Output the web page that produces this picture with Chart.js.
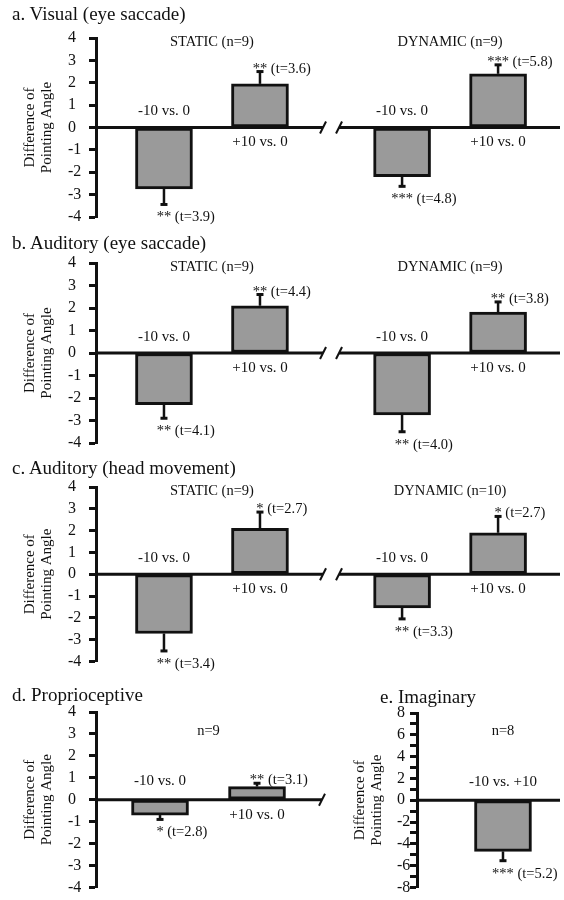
<!DOCTYPE html>
<html><head><meta charset="utf-8">
<script src="https://cdn.jsdelivr.net/npm/chart.js@4"></script>
<style>
body{margin:0;background:#fff;width:564px;height:900px;position:relative;overflow:hidden;font-family:"Liberation Serif",serif;color:#111}
canvas{position:absolute}
.t{position:absolute;font-size:19px;line-height:22px;white-space:nowrap}
</style></head><body>
<canvas id="ca" width="564" height="232" style="left:0;top:0"></canvas>
<canvas id="cb" width="564" height="224" style="left:0;top:232px"></canvas>
<canvas id="cc" width="564" height="218" style="left:0;top:456px"></canvas>
<canvas id="cd" width="330" height="226" style="left:0;top:674px"></canvas>
<canvas id="ce" width="234" height="226" style="left:330px;top:674px"></canvas>
<div class="t" style="left:12px;top:3px">a. Visual (eye saccade)</div>
<div class="t" style="left:12px;top:232px">b. Auditory (eye saccade)</div>
<div class="t" style="left:12px;top:457px">c. Auditory (head movement)</div>
<div class="t" style="left:12px;top:684px">d. Proprioceptive</div>
<div class="t" style="left:380px;top:686px">e. Imaginary</div>
<script>
// values
const cats = ["-10 vs. 0", "+10 vs. 0"];
const catsImag = ["-10 vs. +10"];

const visStatic = [-2.75, 1.95];
const visStaticErr = [0.69, 0.55];
const visStaticSig = ["** (t=3.9)", "** (t=3.6)"];
const visDynamic = [-2.2, 2.4];
const visDynamicErr = [0.43, 0.4];
const visDynamicSig = ["*** (t=4.8)", "*** (t=5.8)"];

const audStatic = [-2.3, 2.1];
const audStaticErr = [0.6, 0.5];
const audStaticSig = ["** (t=4.1)", "** (t=4.4)"];
const audDynamic = [-2.75, 1.82];
const audDynamicErr = [0.75, 0.45];
const audDynamicSig = ["** (t=4.0)", "** (t=3.8)"];

const headStatic = [-2.72, 2.1];
const headStaticErr = [0.8, 0.75];
const headStaticSig = ["** (t=3.4)", "* (t=2.7)"];
const headDynamic = [-1.55, 1.9];
const headDynamicErr = [0.5, 0.75];
const headDynamicSig = ["** (t=3.3)", "* (t=2.7)"];

const propValues = [-0.7, 0.6];
const propErr = [0.2, 0.15];
const propSig = ["* (t=2.8)", "** (t=3.1)"];

const imagValues = [-4.7];
const imagErr = [0.85];
const imagSig = ["*** (t=5.2)"];

const F = '"Liberation Serif"';

const deco = {
  id: 'deco',
  afterDatasetsDraw(chart, args, o) {
    const {ctx, chartArea: a, scales: {x, y}} = chart;
    const y0 = y.getPixelForValue(0);
    ctx.save();
    ctx.strokeStyle = ctx.fillStyle = '#111';
    ctx.lineWidth = 3;
    let bx = null;
    const segs = [];
    if (o.breakAt != null) {
      bx = x.getPixelForValue(o.breakAt);
      segs.push([a.left, bx - 8], [bx + 8, a.right]);
    } else segs.push([a.left, a.right]);
    segs.forEach(([l, r]) => { ctx.beginPath(); ctx.moveTo(l, y0); ctx.lineTo(r, y0); ctx.stroke(); });
    const slash = px => { ctx.lineWidth = 2; ctx.beginPath(); ctx.moveTo(px - 3, y0 + 6); ctx.lineTo(px + 3, y0 - 6); ctx.stroke(); };
    if (bx != null) { slash(bx - 8); slash(bx + 8); }
    if (o.endBreak) slash(a.right);

    chart.data.datasets.forEach((ds, di) => {
      const els = chart.getDatasetMeta(di).data;
      ctx.font = '14.5px ' + F; ctx.textAlign = 'center'; ctx.textBaseline = 'middle';
      const gx = els.reduce((s, e) => s + e.x, 0) / els.length;
      ctx.fillText(ds.label, gx, a.top + o.labelDy);
      els.forEach((el, i) => {
        const v = ds.data[i].y, s = v < 0 ? -1 : 1;
        const end = y.getPixelForValue(v + s * ds.err[i]);
        ctx.lineWidth = 2.5;
        ctx.beginPath(); ctx.moveTo(el.x, el.y); ctx.lineTo(el.x, end); ctx.stroke();
        ctx.lineWidth = 3;
        ctx.beginPath(); ctx.moveTo(el.x - 3.5, end); ctx.lineTo(el.x + 3.5, end); ctx.stroke();
        ctx.font = '15px ' + F; ctx.textAlign = 'center'; ctx.textBaseline = 'middle';
        ctx.fillText(ds.names[i], el.x, y0 + (v < 0 ? -o.catUp : 15));
        ctx.font = '14.5px ' + F; ctx.textAlign = 'left'; ctx.textBaseline = 'alphabetic';
        const stars = ds.sig[i].split(' ')[0];
        const sx = el.x - ctx.measureText(stars).width / 2;
        ctx.fillText(ds.sig[i], sx, v < 0 ? end + 17 : end + 1);
      });
    });
    ctx.restore();
  }
};

function group(label, values, err, sig, names, offset) {
  return {
    label, err, sig, names,
    data: values.map((v, i) => ({x: offset + i, y: v})),
    backgroundColor: '#9a9a9a', borderColor: '#111', borderWidth: 3,
    borderSkipped: false, barThickness: 57, grouped: false
  };
}

function panel(id, datasets, o) {
  new Chart(document.getElementById(id), {
    type: 'bar',
    data: {datasets},
    options: {
      responsive: false, animation: false, devicePixelRatio: 1,
      layout: {padding: o.pad},
      plugins: {legend: {display: false}, tooltip: {enabled: false}, deco: o},
      scales: {
        x: {type: 'linear', display: false, offset: false, min: o.xmin, max: o.xmax},
        y: {
          min: -o.ymax, max: o.ymax,
          afterFit: s => { s.width = o.axisW; },
          border: {color: '#111', width: 3},
          grid: {drawOnChartArea: false, tickLength: 7, tickWidth: 3, tickColor: '#111'},
          ticks: {stepSize: 1, autoSkip: false, crossAlign: 'far', color: '#111',
            font: {family: F, size: 16},
            callback: v => (v % o.labelStep === 0 ? v : '')},
          title: {display: true, text: ['Difference of', 'Pointing Angle'], color: '#111',
            font: {family: F, size: 15, lineHeight: 1.13}, padding: {top: o.titlePad, bottom: 0}}
        }
      }
    },
    plugins: [deco]
  });
}

const gap = 2.48;
const rowOpts = (top, bottom) => ({
  pad: {left: 68, right: 4, top, bottom}, axisW: 28, titlePad: -46.5,
  xmin: -0.708, xmax: 4.125, ymax: 4, labelStep: 1, breakAt: 1.74, labelDy: 4, catUp: 16
});

panel('ca', [
  group('STATIC (n=9)', visStatic, visStaticErr, visStaticSig, cats, 0),
  group('DYNAMIC (n=9)', visDynamic, visDynamicErr, visDynamicSig, cats, gap)
], rowOpts(38, 15));

panel('cb', [
  group('STATIC (n=9)', audStatic, audStaticErr, audStaticSig, cats, 0),
  group('DYNAMIC (n=9)', audDynamic, audDynamicErr, audDynamicSig, cats, gap)
], rowOpts(31, 13));

panel('cc', [
  group('STATIC (n=9)', headStatic, headStaticErr, headStaticSig, cats, 0),
  group('DYNAMIC (n=10)', headDynamic, headDynamicErr, headDynamicSig, cats, gap)
], rowOpts(31, 9));

panel('cd', [
  group('n=9', propValues, propErr, propSig, cats, 0)
], {pad: {left: 68, right: 8, top: 38, bottom: 10}, axisW: 28, titlePad: -46.5,
    xmin: -0.66, xmax: 1.67, ymax: 4, labelStep: 1, endBreak: true, labelDy: 19, catUp: 19});

panel('ce', [
  group('n=8', imagValues, imagErr, imagSig, catsImag, 0)
], {pad: {left: 67, right: 4, top: 39, bottom: 11}, axisW: 20, titlePad: -45.5,
    xmin: -1, xmax: 0.663, ymax: 8, labelStep: 2, labelDy: 18, catUp: 18});
</script>
</body></html>
